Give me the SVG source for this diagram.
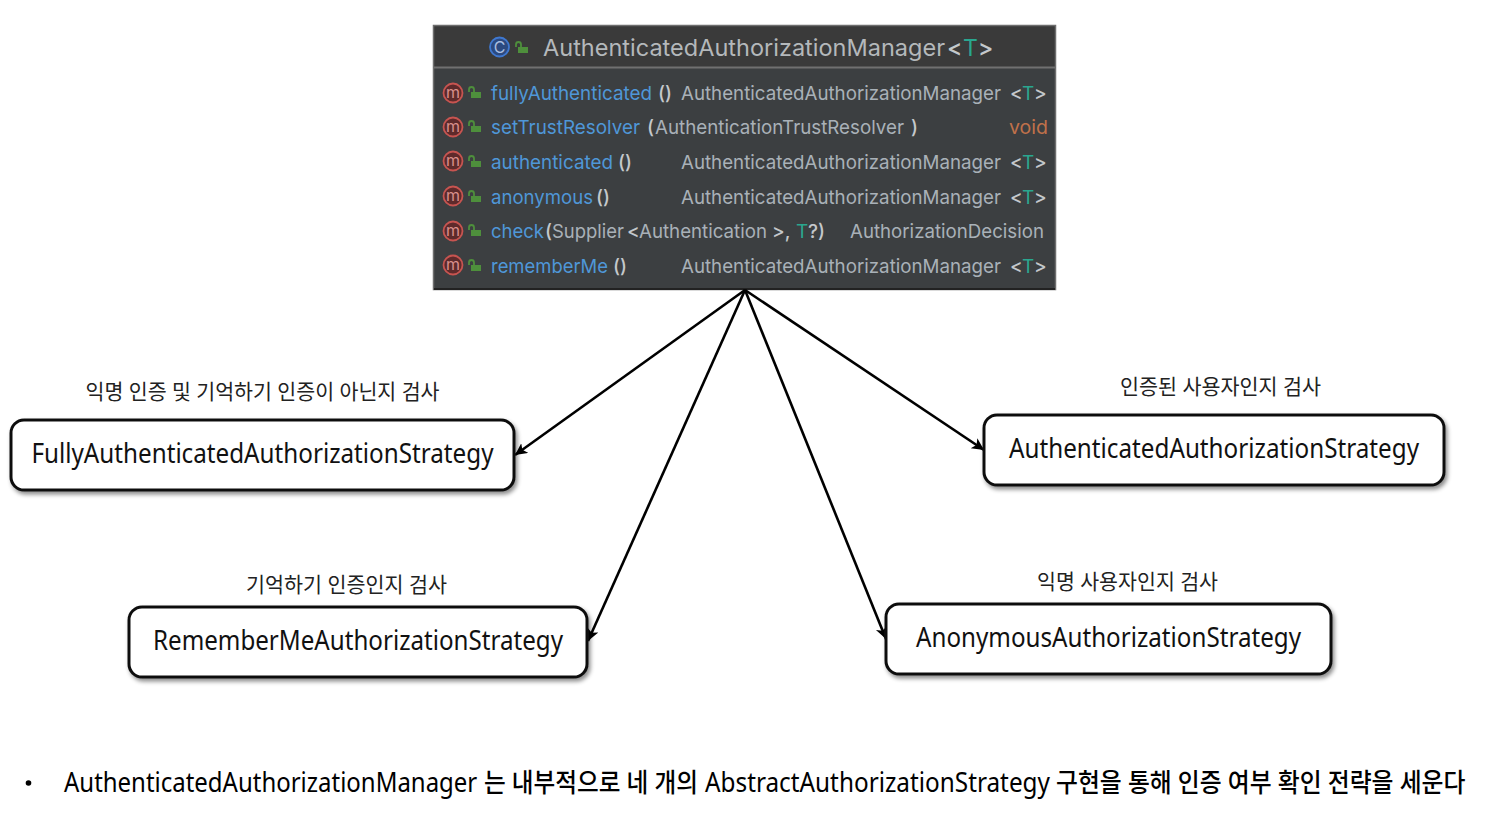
<svg xmlns="http://www.w3.org/2000/svg" width="1495" height="815" viewBox="0 0 1495 815">
<style>
text{font-family:"Noto Sans","Noto Sans CJK KR",sans-serif}
.ide{font-family:Inter,"Liberation Sans",sans-serif;font-size:19px;fill:#a9b1b8}
.hd{font-size:23px;fill:#b4b8bb}
.fn{fill:#4f97d8}
.ty{fill:#2aa68f}
.vd{fill:#c0714a}
.br{fill:#c4c8cb;font-weight:500}
.mc{fill:#5e2a2b;stroke:#c75450;stroke-width:1.8}
.mt{font-family:Inter,"Liberation Sans",sans-serif;font-size:16px;fill:#d9908c;text-anchor:middle}
.lk{fill:#4e8f3c}
.lks{fill:none;stroke:#4e8f3c;stroke-width:1.8}
.box{fill:#fff;stroke:#111;stroke-width:3;filter:url(#sh)}
.nm{font-size:28px;fill:#111;text-anchor:middle}
.lb{font-size:21px;fill:#222;text-anchor:middle}
.nt{font-size:28px;fill:#000}
.nk{font-size:26px;fill:#000;font-weight:500}
.cn{fill:none;stroke:#000;stroke-width:2.600;marker-end:url(#ah)}
</style>
<defs>
<marker id="ah" markerUnits="userSpaceOnUse" markerWidth="14" markerHeight="14" refX="12" refY="6" orient="auto"><path d="M0 0L12 6L0 12L3 6Z" fill="#000"/></marker>
<filter id="sh" x="-5%" y="-15%" width="110%" height="135%"><feDropShadow dx="2" dy="3" stdDeviation="2" flood-color="#000" flood-opacity=".45"/></filter>
<g id="lock"><rect x="-3" y="-1" width="10" height="6" class="lk"/><path d="M0 -1V-3.500A2.500 2.500 0 0 0 -5 -3.500V-1" class="lks"/></g>
</defs>
<rect width="1495" height="815" fill="#fff"/>

<g id="manager">
<rect x="434" y="26" width="621" height="263" fill="#3c3f41"/>
<rect x="434" y="26" width="621" height="41" fill="#3a3a3a"/>
<rect x="433.500" y="25.500" width="622" height="264" fill="none" stroke="#6e6e6e" stroke-width="1.500"/>
<rect x="434" y="66.500" width="621" height="2" fill="#707070"/>
<rect x="434" y="288" width="621" height="2" fill="#222"/>
<circle cx="499.500" cy="47" r="9.500" fill="#2c4a80" stroke="#3f78d0" stroke-width="1.800"/>
<text x="499.500" y="53" font-size="16" fill="#a9bfe0" text-anchor="middle" style="font-family:Inter,sans-serif">C</text>
<use href="#lock" x="521" y="48"/>
<text class="ide hd" x="543" y="56" textLength="402" lengthAdjust="spacingAndGlyphs">AuthenticatedAuthorizationManager</text>
<text class="ide hd" x="947" y="56"><tspan class="br">&lt;</tspan></text>
<text class="ide hd ty" x="963" y="56">T</text>
<text class="ide hd" x="978" y="56"><tspan class="br">&gt;</tspan></text>

<g id="row1"><circle class="mc" cx="453" cy="93" r="9.500"/><text class="mt" x="453" y="98">m</text><use href="#lock" x="474" y="93"/>
<text class="ide fn" x="491" y="100" textLength="161" lengthAdjust="spacingAndGlyphs">fullyAuthenticated</text><text class="ide br" x="658" y="100">()</text>
<text class="ide" x="681" y="100" textLength="320" lengthAdjust="spacingAndGlyphs">AuthenticatedAuthorizationManager</text><text class="ide br" x="1010" y="100">&lt;</text><text class="ide ty" x="1022" y="100">T</text><text class="ide br" x="1034" y="100">&gt;</text></g>

<g id="row2"><circle class="mc" cx="453" cy="127" r="9.500"/><text class="mt" x="453" y="132">m</text><use href="#lock" x="474" y="127"/>
<text class="ide fn" x="491" y="134" textLength="149" lengthAdjust="spacingAndGlyphs">setTrustResolver</text><text class="ide br" x="647" y="134">(</text>
<text class="ide" x="655" y="134" textLength="249" lengthAdjust="spacingAndGlyphs">AuthenticationTrustResolver</text><text class="ide br" x="911" y="134">)</text><text class="ide vd" x="1009" y="134" textLength="39" lengthAdjust="spacingAndGlyphs">void</text></g>

<g id="row3"><circle class="mc" cx="453" cy="161" r="9.500"/><text class="mt" x="453" y="166">m</text><use href="#lock" x="474" y="162"/>
<text class="ide fn" x="491" y="169" textLength="122" lengthAdjust="spacingAndGlyphs">authenticated</text><text class="ide br" x="618" y="169">()</text>
<text class="ide" x="681" y="169" textLength="320" lengthAdjust="spacingAndGlyphs">AuthenticatedAuthorizationManager</text><text class="ide br" x="1010" y="169">&lt;</text><text class="ide ty" x="1022" y="169">T</text><text class="ide br" x="1034" y="169">&gt;</text></g>

<g id="row4"><circle class="mc" cx="453" cy="196" r="9.500"/><text class="mt" x="453" y="201">m</text><use href="#lock" x="474" y="197"/>
<text class="ide fn" x="491" y="204" textLength="102" lengthAdjust="spacingAndGlyphs">anonymous</text><text class="ide br" x="596" y="204">()</text>
<text class="ide" x="681" y="204" textLength="320" lengthAdjust="spacingAndGlyphs">AuthenticatedAuthorizationManager</text><text class="ide br" x="1010" y="204">&lt;</text><text class="ide ty" x="1022" y="204">T</text><text class="ide br" x="1034" y="204">&gt;</text></g>

<g id="row5"><circle class="mc" cx="453" cy="231" r="9.500"/><text class="mt" x="453" y="236">m</text><use href="#lock" x="474" y="231"/>
<text class="ide fn" x="491" y="238" textLength="53" lengthAdjust="spacingAndGlyphs">check</text><text class="ide br" x="545" y="238">(</text>
<text class="ide" x="552" y="238" textLength="72" lengthAdjust="spacingAndGlyphs">Supplier</text><text class="ide br" x="627" y="238">&lt;</text>
<text class="ide" x="639" y="238" textLength="128" lengthAdjust="spacingAndGlyphs">Authentication</text><text class="ide br" x="772" y="238">&gt;,</text>
<text class="ide ty" x="796" y="238">T</text><text class="ide br" x="808" y="238">?)</text>
<text class="ide" x="850" y="238" textLength="194" lengthAdjust="spacingAndGlyphs">AuthorizationDecision</text></g>

<g id="row6"><circle class="mc" cx="453" cy="265" r="9.500"/><text class="mt" x="453" y="270">m</text><use href="#lock" x="474" y="266"/>
<text class="ide fn" x="491" y="273" textLength="117" lengthAdjust="spacingAndGlyphs">rememberMe</text><text class="ide br" x="613" y="273">()</text>
<text class="ide" x="681" y="273" textLength="320" lengthAdjust="spacingAndGlyphs">AuthenticatedAuthorizationManager</text><text class="ide br" x="1010" y="273">&lt;</text><text class="ide ty" x="1022" y="273">T</text><text class="ide br" x="1034" y="273">&gt;</text></g>
</g>

<g id="connectors">
<line class="cn" x1="745" y1="290" x2="515" y2="455"/>
<line class="cn" x1="745" y1="290" x2="588" y2="641"/>
<line class="cn" x1="745" y1="290" x2="886" y2="639"/>
<line class="cn" x1="745" y1="290" x2="984" y2="450"/>
</g>

<g id="fully"><rect class="box" x="11" y="420" width="503" height="70" rx="13"/>
<text class="nm" x="262.500" y="463" textLength="462" lengthAdjust="spacingAndGlyphs">FullyAuthenticatedAuthorizationStrategy</text>
<text class="lb" x="262.500" y="399" textLength="354" lengthAdjust="spacingAndGlyphs">익명 인증 및 기억하기 인증이 아닌지 검사</text></g>

<g id="authenticated"><rect class="box" x="984" y="415" width="460" height="70" rx="13"/>
<text class="nm" x="1214" y="458" textLength="410" lengthAdjust="spacingAndGlyphs">AuthenticatedAuthorizationStrategy</text>
<text class="lb" x="1220.500" y="394" textLength="201" lengthAdjust="spacingAndGlyphs">인증된 사용자인지 검사</text></g>

<g id="rememberme"><rect class="box" x="129" y="607" width="458" height="70" rx="13"/>
<text class="nm" x="358" y="650" textLength="410" lengthAdjust="spacingAndGlyphs">RememberMeAuthorizationStrategy</text>
<text class="lb" x="346.500" y="592" textLength="201" lengthAdjust="spacingAndGlyphs">기억하기 인증인지 검사</text></g>

<g id="anonymous"><rect class="box" x="886" y="604" width="445" height="70" rx="13"/>
<text class="nm" x="1108.500" y="647" textLength="385" lengthAdjust="spacingAndGlyphs">AnonymousAuthorizationStrategy</text>
<text class="lb" x="1127.500" y="589" textLength="181" lengthAdjust="spacingAndGlyphs">익명 사용자인지 검사</text></g>

<g id="note">
<circle cx="28.500" cy="783" r="2.800" fill="#000"/>
<text class="nt" transform="translate(64 792) scale(.87 1)" textLength="475" lengthAdjust="spacingAndGlyphs">AuthenticatedAuthorizationManager</text>
<text class="nk" transform="translate(484 792) scale(.91 1)" textLength="235" lengthAdjust="spacingAndGlyphs">는 내부적으로 네 개의</text>
<text class="nt" transform="translate(705 792) scale(.87 1)" textLength="396.500" lengthAdjust="spacingAndGlyphs">AbstractAuthorizationStrategy</text>
<text class="nk" transform="translate(1056 792) scale(.92 1)" textLength="445" lengthAdjust="spacingAndGlyphs">구현을 통해 인증 여부 확인 전략을 세운다</text>
</g>
</svg>
